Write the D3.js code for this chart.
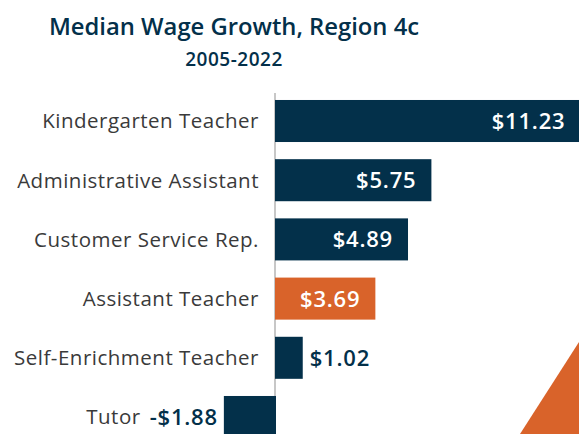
<!DOCTYPE html>
<html>
<head>
<meta charset="utf-8">
<script src="https://cdn.jsdelivr.net/npm/d3@7"></script>
<style>
  html, body { margin: 0; padding: 0; background: #fff; }
  svg { display: block; font-family: "Open Sans", Lato, sans-serif; }
</style>
</head>
<body>
<div class="graphic"></div>
<script>
// chart data
var categories = ['Kindergarten Teacher', 'Administrative Assistant', 'Customer Service Rep.',
                  'Assistant Teacher', 'Self-Enrichment Teacher', 'Tutor']
var growth = [11.23, 5.75, 4.89, 3.69, 1.02, -1.88]
var highlight = 'Assistant Teacher'
var titleText = 'Median Wage Growth, Region 4c'
var subtitleText = '2005-2022'

var width = 579
var height = 434
var navy = '#03304a'
var orange = '#d9632a'

var data = categories.map(function(c, i) { return { name: c, value: growth[i] } })

var svg = d3.select('.graphic').append('svg')
    .attr('width', width)
    .attr('height', height)

// scales
var x = d3.scaleLinear()
    .domain([-2, 12])
    .range([220.6, 601.4])

var y = d3.scaleBand()
    .domain(categories)
    .range([91.4, 446.6])
    .paddingInner(0.29)
    .paddingOuter(0.145)

// title
svg.append('text')
    .attr('x', 234).attr('y', 35)
    .attr('text-anchor', 'middle')
    .style('font-size', '23.8px').style('font-weight', 600)
    .style('fill', navy)
    .text(titleText)

svg.append('text')
    .attr('x', 234).attr('y', 66)
    .attr('text-anchor', 'middle')
    .style('font-size', '19px').style('font-weight', 600)
    .style('letter-spacing', '0.5px')
    .style('fill', navy)
    .text(subtitleText)

// decorative corner
svg.append('path')
    .attr('d', 'M520,' + height + ' L' + width + ',342 L' + width + ',' + height + ' Z')
    .style('fill', orange)

// zero line
svg.append('line')
    .attr('x1', x(0)).attr('x2', x(0))
    .attr('y1', 93).attr('y2', height)
    .style('stroke', '#b5b5b5').style('stroke-width', 1.5)

var item = svg.selectAll('.item')
    .data(data)
    .enter().append('g')
    .classed('item', true)

item.append('rect')
    .attr('x', function(d) { return x(Math.min(0, d.value)) })
    .attr('y', function(d) { return y(d.name) })
    .attr('width', function(d) { return Math.abs(x(d.value) - x(0)) + (d.value < 0 ? 1 : 0) })
    .attr('height', y.bandwidth())
    .style('fill', function(d) { return d.name == highlight ? orange : navy })

function fmt(v) {
    return (v < 0 ? '-$' : '$') + Math.abs(v).toFixed(2)
}

// value labels: inside for wide bars, outside for small ones
item.append('text')
    .attr('class', 'val')
    .attr('y', function(d) { return y(d.name) + y.bandwidth() / 2 })
    .attr('dy', '0.36em')
    .attr('x', function(d) {
        if (d.value < 0) return x(d.value) - 6
        if (d.value < 2) return x(d.value) + 7
        return x(d.value) - 15
    })
    .attr('text-anchor', function(d) { return (d.value < 2 && d.value >= 0) ? 'start' : 'end' })
    .style('font-size', '22px').style('font-weight', 600)
    .style('letter-spacing', '0.8px')
    .style('fill', function(d) { return d.value >= 2 ? '#fff' : navy })
    .text(function(d) { return fmt(d.value) })

// category labels
item.append('text')
    .attr('class', 'cat')
    .attr('y', function(d) { return y(d.name) + y.bandwidth() / 2 })
    .attr('dy', '0.36em')
    .attr('text-anchor', 'end')
    .style('font-size', '20.5px')
    .style('letter-spacing', '0.5px')
    .style('fill', '#3a3a3a')
    .text(function(d) { return d.name })
    .attr('x', function(d) {
        if (d.value < 0) {
            var lbl = d3.select(this.parentNode).select('.val').node().getBBox()
            return lbl.x - 9
        }
        return 259
    })
</script>
</body>
</html>
